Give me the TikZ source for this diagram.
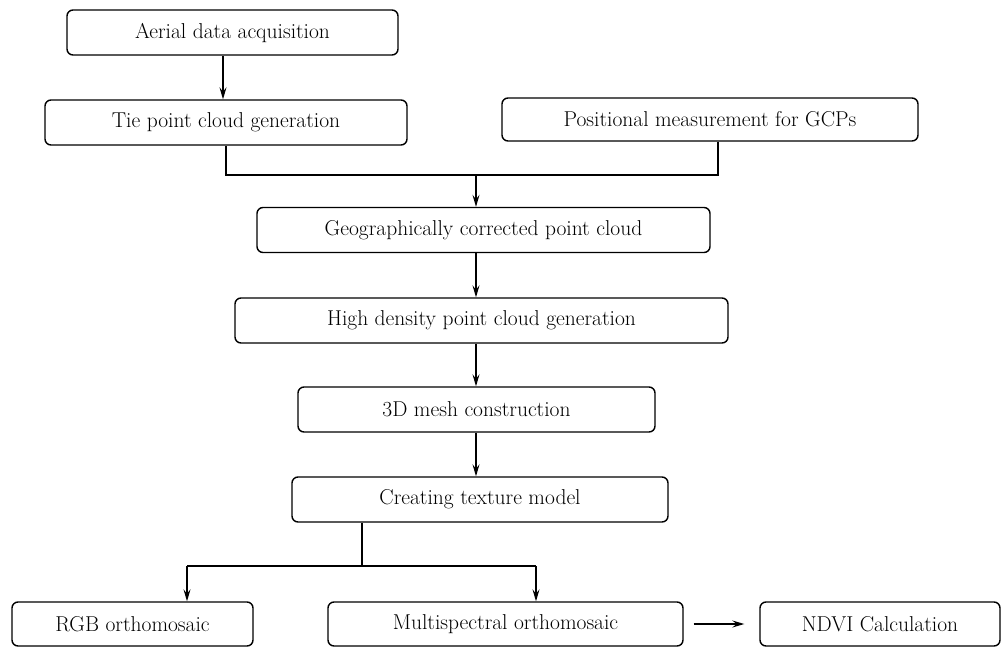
\documentclass[tikz,border=0pt]{standalone}
\usetikzlibrary{arrows.meta}
\begin{document}
\begin{tikzpicture}[x=1pt,y=-1pt,
  stepbox/.style={draw, line width=1.4pt, rounded corners=6pt, minimum height=45pt,
    inner sep=2pt, font=\fontsize{21.5}{25}\selectfont, fill=white},
  link/.style={line width=1.2pt},
  arr/.style={line width=1.2pt, -{Stealth[length=12pt,width=7pt,inset=4.5pt]}}]
\useasboundingbox (0,0) rectangle (1002,648);

% process steps
\node[stepbox, minimum width=331pt] (aerial) at (232.5,32.5) {Aerial data acquisition};
\node[stepbox, minimum width=362pt] (tie)    at (226,122.5)  {Tie point cloud generation};
\node[stepbox, minimum width=416pt, minimum height=43pt] (gcp) at (710,119.5) {Positional measurement for GCPs};
\node[stepbox, minimum width=453pt] (geo)    at (483.5,230)  {Geographically corrected point cloud};
\node[stepbox, minimum width=493pt] (dense)  at (481.5,320.5) {High density point cloud generation};
\node[stepbox, minimum width=357pt] (mesh)   at (476.5,409.5) {3D mesh construction};
\node[stepbox, minimum width=376pt] (tex)    at (480,499.5)  {Creating texture model};
\node[stepbox, minimum width=241pt, minimum height=44pt] (rgb)   at (132.5,624) {RGB orthomosaic};
\node[stepbox, minimum width=355pt, minimum height=44pt] (multi) at (505.5,624) {Multispectral orthomosaic};
\node[stepbox, minimum width=240pt, minimum height=44pt] (ndvi)  at (880,624)   {NDVI Calculation};

% junction points of the connectors
\coordinate (spine) at (476,0);
\coordinate (merge) at (476,175);
\coordinate (gcpdrop) at (718,0);
\coordinate (split) at (362,566);
\coordinate (toRGB) at (187,566);
\coordinate (toMS) at (536,566);

% connectors
\draw[arr] ([xshift=-9.5pt]aerial.south) -- ([xshift=-9.5pt]aerial.south |- tie.north);
\draw[link] (tie.south) |- (merge);
\draw[link] (gcp.south -| gcpdrop) |- (merge);
\draw[arr] (merge) -- (geo.north -| merge);
\draw[arr] (geo.south -| spine) -- (dense.north -| spine);
\draw[arr] (dense.south -| spine) -- (mesh.north -| spine);
\draw[arr] (mesh.south -| spine) -- (tex.north -| spine);
\draw[link] (tex.south -| split) -- (split);
\draw[link] (toRGB) -- (toMS);
\draw[arr] (toRGB) -- (rgb.north -| toRGB);
\draw[arr] (toMS) -- (multi.north -| toMS);
\draw[arr, line width=1.6pt] ([xshift=10pt]multi.east) -- ([xshift=-15pt]ndvi.west);
\end{tikzpicture}
\end{document}
